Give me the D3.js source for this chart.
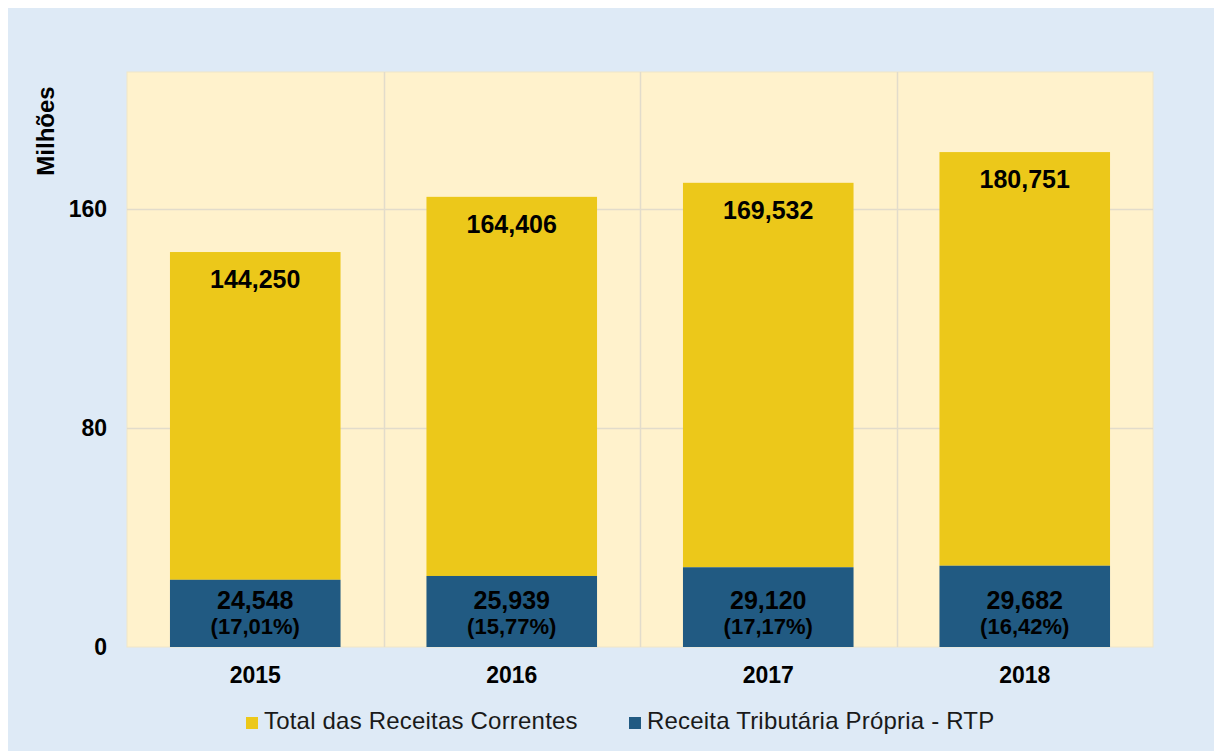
<!DOCTYPE html>
<html>
<head>
<meta charset="utf-8">
<script src="https://cdn.jsdelivr.net/npm/d3@7"></script>
<style>
  body { margin: 0; background: #fff; }
  svg { display: block; font-family: "Liberation Sans", Arial, sans-serif; }
</style>
</head>
<body>
<svg id="chart" width="1214" height="751"></svg>
<script>
// data (milhões)
var years = ["2015", "2016", "2017", "2018"];
var totalReceitas = [144.250, 164.406, 169.532, 180.751];
var receitaRTP = [24.548, 25.939, 29.120, 29.682];
var totalLabels = ["144,250", "164,406", "169,532", "180,751"];
var rtpLabels = ["24,548", "25,939", "29,120", "29,682"];
var pctLabels = ["(17,01%)", "(15,77%)", "(17,17%)", "(16,42%)"];
var yTicks = [0, 80, 160];
var seriesNames = ["Total das Receitas Correntes", "Receita Tributária Própria - RTP"];

var colTotal = "#ECC81A", colRTP = "#215A82";

var svg = d3.select("#chart");

// outer panel
svg.append("rect").attr("x", 8).attr("y", 8).attr("width", 1206).attr("height", 743)
    .attr("fill", "#DEEAF6");

var margin = {top: 72, right: 61, bottom: 104, left: 127};
var width = 1214 - margin.left - margin.right;
var height = 751 - margin.top - margin.bottom;

var g = svg.append("g").attr("transform", "translate(" + margin.left + "," + margin.top + ")");

var x = d3.scaleBand().domain(years).range([0, width]).paddingInner(0.335).paddingOuter(0.1675);
var xCat = d3.scaleBand().domain(years).range([0, width]);
var y = d3.scaleLinear().domain([0, 210]).range([height, 0]);

g.append("rect").attr("width", width).attr("height", height)
    .attr("fill", "#FFF2CC").attr("stroke", "#F0E6C8").attr("stroke-width", 1);

// grid
g.selectAll(".hgrid").data(yTicks.filter(function(d){ return d > 0; })).enter()
    .append("line")
    .attr("x1", 0).attr("x2", width)
    .attr("y1", function(d){ return Math.round(y(d)) + 0.5; })
    .attr("y2", function(d){ return Math.round(y(d)) + 0.5; })
    .attr("stroke", "#E2DCCB").attr("stroke-width", 1.5);

g.selectAll(".vgrid").data(years.slice(1)).enter()
    .append("line")
    .attr("x1", function(d){ return Math.round(xCat(d)) + 0.5; })
    .attr("x2", function(d){ return Math.round(xCat(d)) + 0.5; })
    .attr("y1", 0).attr("y2", height)
    .attr("stroke", "#E2DCCB").attr("stroke-width", 1.5);

// bars
g.selectAll(".barTotal").data(years).enter().append("rect")
    .attr("x", function(d){ return x(d); })
    .attr("y", function(d, i){ return y(totalReceitas[i]); })
    .attr("width", x.bandwidth())
    .attr("height", function(d, i){ return y(receitaRTP[i]) - y(totalReceitas[i]); })
    .attr("fill", colTotal);

g.selectAll(".barRTP").data(years).enter().append("rect")
    .attr("x", function(d){ return x(d); })
    .attr("y", function(d, i){ return y(receitaRTP[i]); })
    .attr("width", x.bandwidth())
    .attr("height", function(d, i){ return height - y(receitaRTP[i]); })
    .attr("fill", colRTP);

// labels
g.selectAll(".lblTotal").data(years).enter().append("text")
    .attr("x", function(d){ return x(d) + x.bandwidth() / 2; })
    .attr("y", function(d, i){ return y(totalReceitas[i]) + 36; })
    .attr("text-anchor", "middle")
    .style("font-size", "25px").style("font-weight", "bold").attr("fill", "#000")
    .text(function(d, i){ return totalLabels[i]; });

g.selectAll(".lblRTP").data(years).enter().append("text")
    .attr("x", function(d){ return x(d) + x.bandwidth() / 2; })
    .attr("y", height - 38)
    .attr("text-anchor", "middle")
    .style("font-size", "25px").style("font-weight", "bold").attr("fill", "#000")
    .text(function(d, i){ return rtpLabels[i]; });

g.selectAll(".lblPct").data(years).enter().append("text")
    .attr("x", function(d){ return x(d) + x.bandwidth() / 2; })
    .attr("y", height - 13)
    .attr("text-anchor", "middle")
    .style("font-size", "22px").style("font-weight", "bold").attr("fill", "#000")
    .text(function(d, i){ return pctLabels[i]; });

// axes
var yAxis = g.append("g").attr("transform", "translate(-20,0)")
    .call(d3.axisLeft(y).tickValues(yTicks).tickSize(0).tickPadding(0));
yAxis.select(".domain").remove();
yAxis.selectAll("text").style("font-size", "23px").style("font-weight", "bold")
    .attr("fill", "#000").attr("font-family", "Liberation Sans, Arial, sans-serif");

var xAxis = g.append("g").attr("transform", "translate(0," + height + ")")
    .call(d3.axisBottom(xCat).tickSize(0).tickPadding(20));
xAxis.select(".domain").remove();
xAxis.selectAll("text").style("font-size", "23px").style("font-weight", "bold")
    .attr("fill", "#000").attr("font-family", "Liberation Sans, Arial, sans-serif");

svg.append("text")
    .attr("transform", "translate(54,131) rotate(-90)")
    .attr("text-anchor", "middle")
    .style("font-size", "24px").style("font-weight", "bold")
    .text("Milhões");

// legend
var legendX = [246, 629];
var legend = svg.selectAll(".legend").data(seriesNames).enter().append("g")
    .attr("transform", function(d, i){ return "translate(" + legendX[i] + ",717)"; });
legend.append("rect").attr("x", 0).attr("y", 0).attr("width", 12).attr("height", 12)
    .attr("fill", function(d, i){ return i === 0 ? colTotal : colRTP; });
legend.append("text").attr("x", 18).attr("y", 12)
    .style("font-size", "24px").style("letter-spacing", "0.2px").attr("fill", "#1a1a1a")
    .text(function(d){ return d; });
</script>
</body>
</html>
